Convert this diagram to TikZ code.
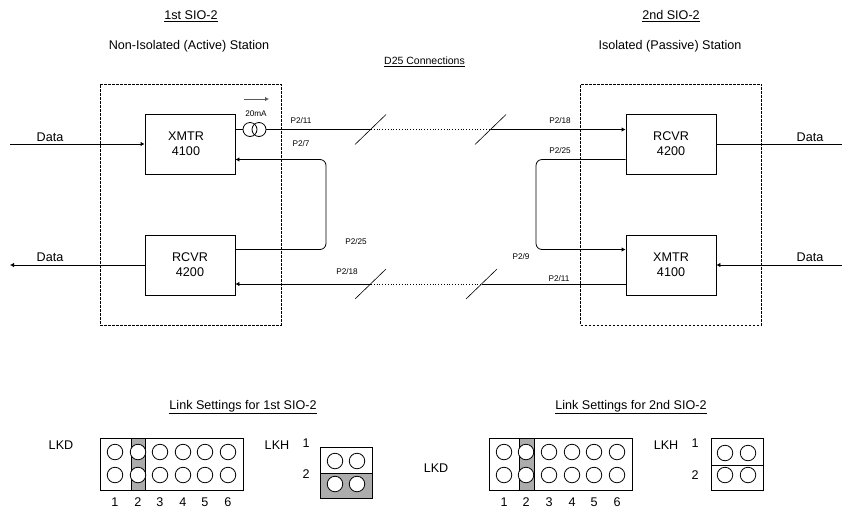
\documentclass[tikz,border=0pt]{standalone}
\usepackage{fontspec}
\setmainfont{Liberation Sans}
\usetikzlibrary{positioning,calc,arrows.meta}
\tikzset{
    unitbox/.style={draw, minimum width=90pt, minimum height=60pt, align=center, font=\fontsize{12.6}{15}\selectfont, inner sep=0pt},
    stationbox/.style={draw, dash pattern=on 2.6pt off 1.4pt, minimum width=181pt, minimum height=241pt, inner sep=0pt},
    headtext/.style={font=\fontsize{12.6}{15}\selectfont, inner sep=0pt},
    pintext/.style={font=\fontsize{8.2}{10}\selectfont, inner sep=0pt},
    pinhole/.style={draw, circle, fill=white, minimum size=15.5pt, inner sep=0pt},
    srcring/.style={draw, circle, minimum size=14pt, inner sep=0pt},
}
\begin{document}
\begin{tikzpicture}[x=1pt, y=-1pt, >={Latex[length=4pt,width=4.5pt]}, line width=0.8pt]
    \useasboundingbox (0,0) rectangle (842,512);
    % headings
    \node[headtext] (headA) at (191,16) {\underline{1st SIO-2}};
    \node[headtext] (headB) at (671,16) {\underline{2nd SIO-2}};
    \node[headtext] (stationA) at (189,46) {Non-Isolated (Active) Station};
    \node[headtext] (stationB) at (670,46) {Isolated (Passive) Station};
    \node[font=\fontsize{10.5}{12}\selectfont, inner sep=0pt] (d25) at (424.5,62) {\underline{D25 Connections}};

    % stations
    \node[stationbox] (boxA) at (190.5,204.5) {};
    \node[stationbox] (boxB) at (671,204.5) {};
    \node[unitbox] (xmtrA) at (190,144) {XMTR\hspace*{8pt}\\4100\hspace*{8pt}};
    \node[unitbox] (rcvrA) at (190,265) {RCVR\\4200};
    \node[unitbox] (rcvrB) at (671,144) {RCVR\\4200};
    \node[unitbox] (xmtrB) at (671,265) {XMTR\\4100};

    % current source
    \node[srcring] (ringL) at (250,129.5) {};
    \node[srcring] (ringR) at (259,129.5) {};
    \node[pintext] (src) at (256,114) {20mA};
    \coordinate (flowS) at (244,99);
    \coordinate (flowE) at (269,99);
    \draw[->, gray!70!black] (flowS) -- (flowE);

    % slashes on the long lines
    \foreach \name/\x/\y in {slashA/371/129.5, slashB/491/129.5, slashC/371/284, slashD/482/284} {
        \coordinate (\name) at (\x,\y);
        \draw[line width=0.6pt] ($(\name)+(-16,15)$) -- ($(\name)+(15,-15)$);
    }
    \draw[dotted] (slashA) -- (slashB);
    \draw[dotted] (slashC) -- (slashD);
    \draw (xmtrA.east |- ringL.west) -- (ringL.west);
    \draw (ringR.east) -- (slashA);
    \draw[->] (slashB) -- (rcvrB.west |- slashB);
    \draw[->] (slashC) -- (rcvrA.east |- slashC);
    \draw (slashD) -- (xmtrB.west |- slashD);

    % loops
    \coordinate (loopA) at (326,159.5);
    \coordinate (loopB) at (536,159.5);
    \coordinate (loopC) at (326,249.5);
    \coordinate (loopD) at (536,249.5);
    \draw[->, rounded corners=6pt] (rcvrA.east |- loopC) -- (loopC) -- (loopA) -- (xmtrA.east |- loopA);
    \draw[->, rounded corners=6pt] (rcvrB.west |- loopB) -- (loopB) -- (loopD) -- (xmtrB.west |- loopD);

    % data lines
    \coordinate (dataAin) at (10,144);
    \coordinate (dataAout) at (10,265);
    \coordinate (dataBout) at (842,144);
    \coordinate (dataBin) at (842,265);
    \draw[->] (dataAin) -- (xmtrA);
    \draw[->] (rcvrA) -- (dataAout);
    \draw (rcvrB) -- (dataBout);
    \draw[->] (dataBin) -- (xmtrB);
    \foreach \name/\x/\y in {dataA/50/137, dataB/50/257, dataC/810/137, dataD/810/257} {
        \node[headtext] (\name) at (\x,\y) {Data};
    }

    % pin labels
    \foreach \name/\x/\y/\txt in {pinA/301/121/P2\slash 11, pinB/301/144/P2\slash 7, pinC/356/242/P2\slash 25, pinD/347/272/P2\slash 18,
        pinE/560/121/P2\slash 18, pinF/560/151/P2\slash 25, pinG/521/257/P2\slash 9, pinH/559/279/P2\slash 11} {
        \node[pintext] (\name) at (\x,\y) {\txt};
    }

    % link settings, first card
    \node[headtext] (linkA) at (243,407) {\underline{Link Settings for 1st SIO-2}};
    \node[headtext] (lkdA) at (61,445) {LKD};
    \node[headtext] (lkhA) at (277,445) {LKH};
    \node[headtext] (oneA) at (306,443) {1};
    \node[headtext] (twoA) at (306,474) {2};
    \draw (100,438) rectangle (243,490);
    \draw[fill=gray!65] (131,438) rectangle (145,490);
    \foreach \n/\x in {1/115, 2/138, 3/160, 4/183, 5/205, 6/228} {
        \node[pinhole] (a\n) at (\x,452) {};
        \node[pinhole] (b\n) at (\x,475) {};
        \node[headtext] (c\n) at (\x,502) {\n};
    }
    \draw (320,447) rectangle (372,473);
    \draw[fill=gray!65] (320,473) rectangle (372,498);
    \foreach \n/\x in {1/335, 2/357} {
        \node[pinhole] (d\n) at (\x,461) {};
        \node[pinhole] (e\n) at (\x,484) {};
    }

    % link settings, second card
    \node[headtext] (linkB) at (631,407) {\underline{Link Settings for 2nd SIO-2}};
    \node[headtext] (lkdB) at (436,468) {LKD};
    \node[headtext] (lkhB) at (666,445) {LKH};
    \node[headtext] (oneB) at (695,443) {1};
    \node[headtext] (twoB) at (695,475) {2};
    \draw (489,438) rectangle (632,490);
    \draw[fill=gray!65] (519,438) rectangle (534,490);
    \foreach \n/\x in {1/504, 2/526, 3/549, 4/572, 5/594, 6/617} {
        \node[pinhole] (f\n) at (\x,452) {};
        \node[pinhole] (g\n) at (\x,475) {};
        \node[headtext] (h\n) at (\x,502) {\n};
    }
    \draw (711,438) rectangle (763,465);
    \draw (711,465) rectangle (763,490);
    \foreach \n/\x in {1/725, 2/748} {
        \node[pinhole] (i\n) at (\x,453) {};
        \node[pinhole] (j\n) at (\x,475) {};
    }
\end{tikzpicture}
\end{document}
